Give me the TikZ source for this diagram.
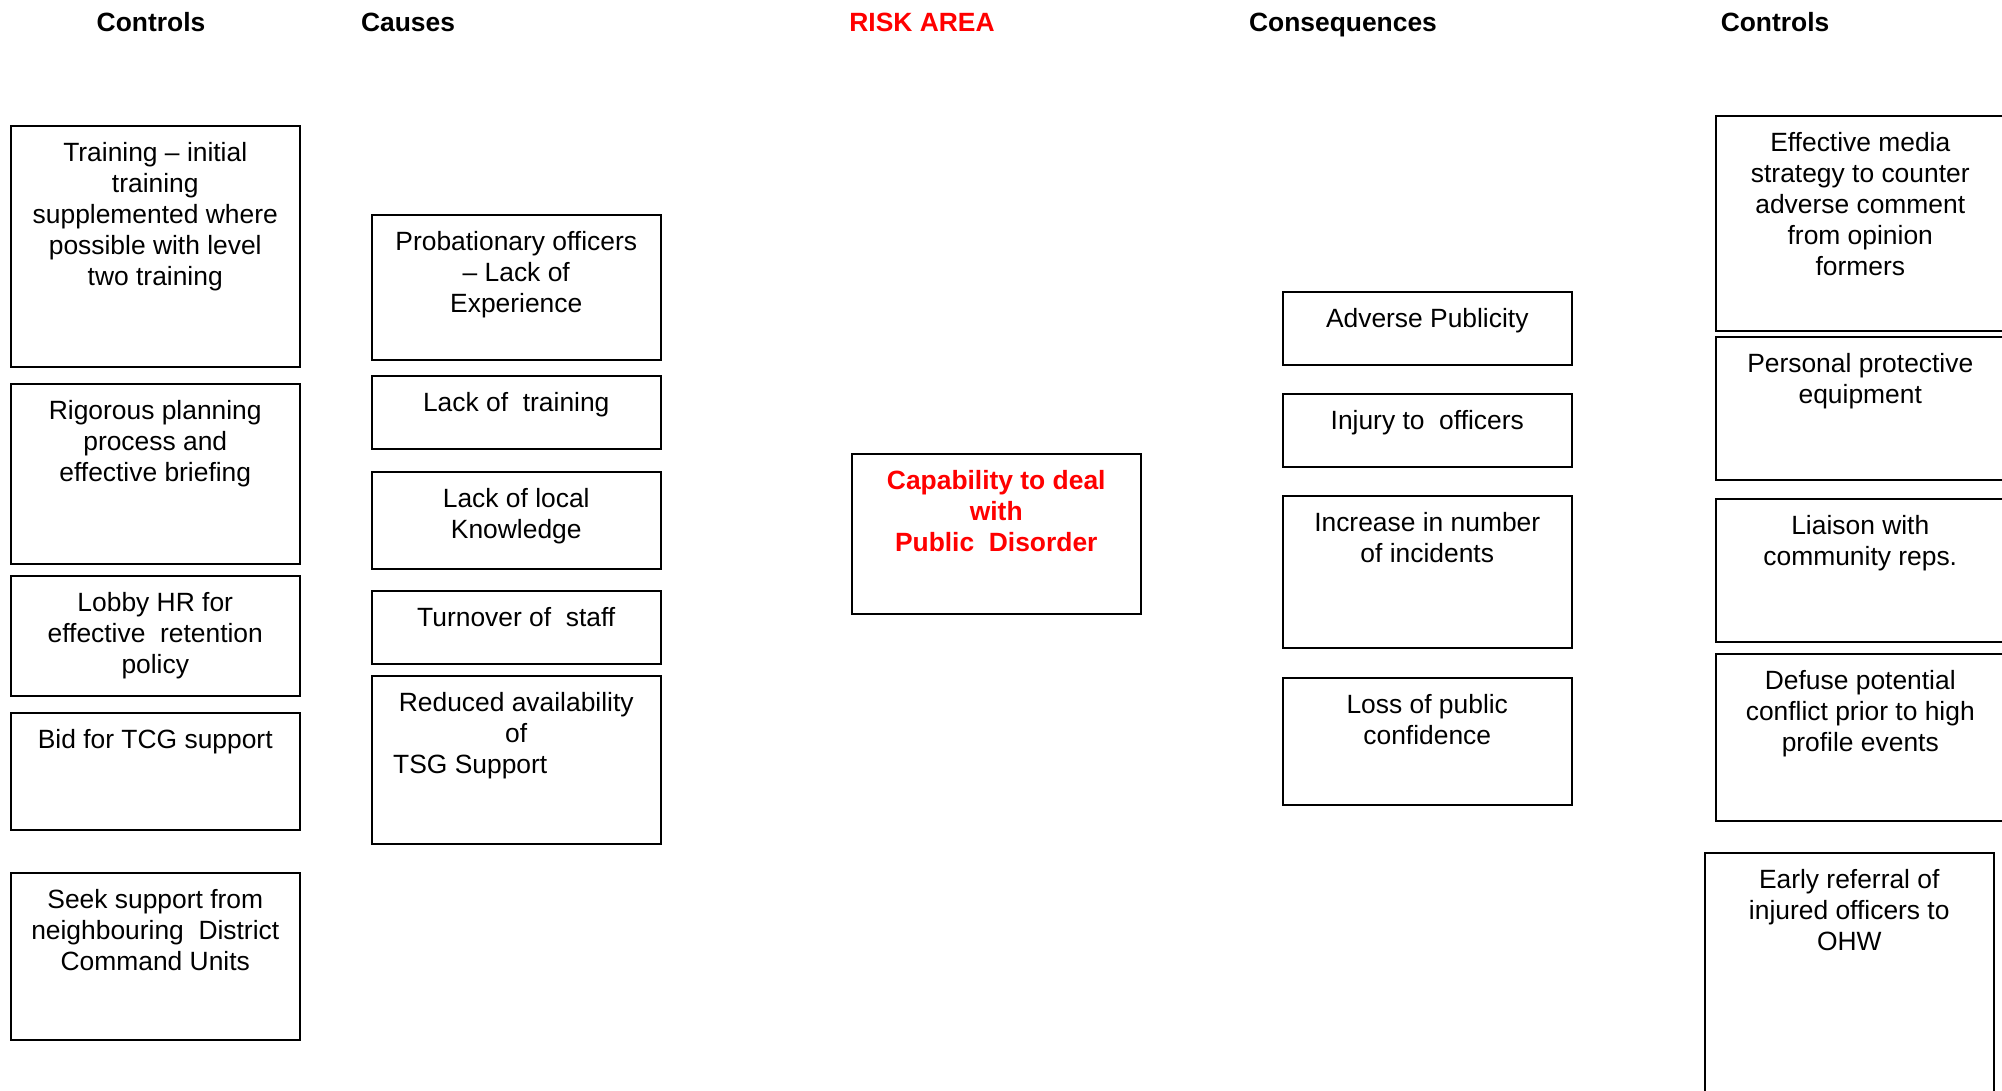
\documentclass[tikz,border=0pt]{standalone}
\usepackage{fontspec}
\setmainfont{Liberation Sans}
\definecolor{riskred}{RGB}{255,0,0}
\begin{document}
\begin{tikzpicture}[x=1pt,y=-1pt,
  box/.style={draw, line width=1.5pt, inner sep=0pt, anchor=north west, minimum width=289pt},
  txt/.style={anchor=north, align=center, inner sep=0pt, font=\fontsize{26.4}{31}\selectfont},
  head/.style={anchor=base, inner sep=0pt, font=\bfseries\fontsize{26.4}{31}\selectfont},
  risktxt/.style={txt, text=riskred, font=\bfseries\fontsize{26.4}{31}\selectfont}]
\useasboundingbox (0,0) rectangle (2002,1090);
\clip (0,0) rectangle (2002,1090);
\fill[white] (0,0) rectangle (2002,1090);

% headers
\node[head] (h1) at (151,31) {Controls};
\node[head] (h2) at (408,31) {Causes};
\node[head, text=riskred] (h3) at (922,31) {RISK AREA};
\node[head] (h4) at (1343,31) {Consequences};
\node[head] (h5) at (1775,31) {Controls};

% left controls
\node[box, minimum height=241pt] (l1) at (10,125) {};
\node[txt] (l1t) at ([yshift=-14.3pt]l1.north) {\strut Training -- initial\\training\\supplemented where\\possible with level\\two training};
\node[box, minimum height=180pt] (l2) at (10,383) {};
\node[txt] (l2t) at ([yshift=-14.3pt]l2.north) {\strut Rigorous planning\\process and\\effective briefing};
\node[box, minimum height=120pt] (l3) at (10,575) {};
\node[txt] (l3t) at ([yshift=-14.3pt]l3.north) {\strut Lobby HR for\\effective\ \ retention\\policy};
\node[box, minimum height=117pt] (l4) at (10,712) {};
\node[txt] (l4t) at ([yshift=-14.3pt]l4.north) {\strut Bid for TCG support};
\node[box, minimum height=167pt] (l5) at (10,872) {};
\node[txt] (l5t) at ([yshift=-14.3pt]l5.north) {\strut Seek support from\\neighbouring\ \ District\\Command Units};

% causes
\node[box, minimum height=145pt] (c1) at (371,214) {};
\node[txt] (c1t) at ([yshift=-14.3pt]c1.north) {\strut Probationary officers\\-- Lack of\\Experience};
\node[box, minimum height=73pt] (c2) at (371,375) {};
\node[txt] (c2t) at ([yshift=-14.3pt]c2.north) {\strut Lack of\ \ training};
\node[box, minimum height=97pt] (c3) at (371,471) {};
\node[txt] (c3t) at ([yshift=-14.3pt]c3.north) {\strut Lack of local\\Knowledge};
\node[box, minimum height=73pt] (c4) at (371,590) {};
\node[txt] (c4t) at ([yshift=-14.3pt]c4.north) {\strut Turnover of\ \ staff};
\node[box, minimum height=168pt] (c5) at (371,675) {};
\node[txt] (c5t) at ([yshift=-14.3pt]c5.north) {\strut Reduced availability\\of\\TSG Support\hspace*{92pt}\mbox{}};

% risk
\node[box, minimum height=160pt] (r) at (851,453) {};
\node[risktxt] (rt) at ([yshift=-14.3pt]r.north) {\strut Capability to deal\\with\\Public\ \ Disorder};

% consequences
\node[box, minimum height=73pt] (q1) at (1282,291) {};
\node[txt] (q1t) at ([yshift=-14.3pt]q1.north) {\strut Adverse Publicity};
\node[box, minimum height=73pt] (q2) at (1282,393) {};
\node[txt] (q2t) at ([yshift=-14.3pt]q2.north) {\strut Injury to\ \ officers};
\node[box, minimum height=152pt] (q3) at (1282,495) {};
\node[txt] (q3t) at ([yshift=-14.3pt]q3.north) {\strut Increase in number\\of incidents};
\node[box, minimum height=127pt] (q4) at (1282,677) {};
\node[txt] (q4t) at ([yshift=-14.3pt]q4.north) {\strut Loss of public\\confidence};

% right controls
\node[box, minimum height=215pt] (k1) at (1715,115) {};
\node[txt] (k1t) at ([yshift=-14.3pt]k1.north) {\strut Effective media\\strategy to counter\\adverse comment\\from opinion\\formers};
\node[box, minimum height=143pt] (k2) at (1715,336) {};
\node[txt] (k2t) at ([yshift=-14.3pt]k2.north) {\strut Personal protective\\equipment};
\node[box, minimum height=143pt] (k3) at (1715,498) {};
\node[txt] (k3t) at ([yshift=-14.3pt]k3.north) {\strut Liaison with\\community reps.};
\node[box, minimum height=167pt] (k4) at (1715,653) {};
\node[txt] (k4t) at ([yshift=-14.3pt]k4.north) {\strut Defuse potential\\conflict prior to high\\profile events};
\node[box, minimum height=300pt] (k5) at (1704,852) {};
\node[txt] (k5t) at ([yshift=-14.3pt]k5.north) {\strut Early referral of\\injured officers to\\OHW};
\end{tikzpicture}
\end{document}
